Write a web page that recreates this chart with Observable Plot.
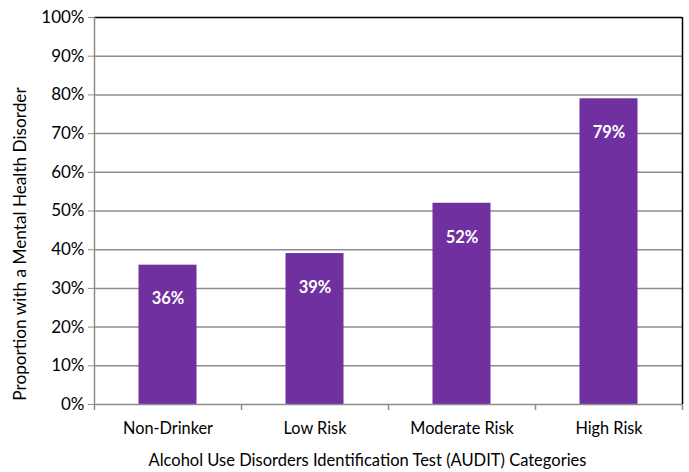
<!DOCTYPE html>
<html>
<head>
<meta charset="utf-8">
<script src="https://cdn.jsdelivr.net/npm/d3@7"></script>
<script src="https://cdn.jsdelivr.net/npm/@observablehq/plot@0.6"></script>
<style>
  html, body { margin: 0; padding: 0; background: #fff; }
</style>
</head>
<body>
<div id="chart"></div>
<script>
// AUDIT risk categories and share of each with a mental health disorder (%)
const categories = ["Non-Drinker", "Low Risk", "Moderate Risk", "High Risk"];
const values = [36, 39, 52, 79];
const yTicks = [0, 10, 20, 30, 40, 50, 60, 70, 80, 90, 100];
const xTitle = "Alcohol Use Disorders Identification Test (AUDIT) Categories";
const yTitle = "Proportion with a Mental Health Disorder";

const data = categories.map((c, i) => ({category: c, value: values[i]}));

const W = 689, H = 472;
const mL = 94, mR = 7, mT = 17, mB = 68;
const band = (W - mL - mR) / categories.length;
const barW = 58;
const inset = (band - barW) / 2;
const grid = "#8c8c8c";

const chart = Plot.plot({
  width: W,
  height: H,
  marginLeft: mL,
  marginRight: mR,
  marginTop: mT,
  marginBottom: mB,
  style: {fontFamily: "Lato, 'Open Sans', sans-serif", fontSize: "16px", color: "#000", background: "#fff"},
  x: {domain: categories, padding: 0},
  y: {domain: [0, 100]},
  marks: [
    // horizontal gridlines
    Plot.ruleY(yTicks.slice(1, -1), {stroke: grid, strokeWidth: 1.5}),
    // bars
    Plot.barY(data, {x: "category", y: "value", fill: "#7030A0", insetLeft: inset, insetRight: inset}),
    // value labels near the top of each bar
    Plot.text(data, {x: "category", y: "value", text: d => `${d.value}%`, dy: 34, fill: "#fff", fontWeight: "bold", fontSize: 16.5}),
    // plot frame: black top and right edges, grey axis lines
    Plot.ruleY([100], {stroke: "#000", strokeWidth: 1.5}),
    Plot.ruleX([categories[categories.length - 1]], {dx: band / 2, stroke: "#000", strokeWidth: 1.5}),
    Plot.ruleY([0], {stroke: grid, strokeWidth: 1.5}),
    Plot.ruleX([categories[0]], {dx: -band / 2, stroke: grid, strokeWidth: 1.5}),
    // category boundary ticks under the x axis
    Plot.ruleX(categories, {x: d => d, dx: -band / 2, y1: 0, y2: 0, insetBottom: -6, stroke: grid, strokeWidth: 1.5}),
    Plot.ruleX([categories[categories.length - 1]], {dx: band / 2, y1: 0, y2: 0, insetBottom: -6, stroke: grid, strokeWidth: 1.5}),
    Plot.axisY({ticks: yTicks, tickFormat: d => `${d}%`, tickSize: 6, tickPadding: 4, stroke: grid, label: null, fontSize: 17}),
    Plot.axisX({tickSize: 0, tickPadding: 18, label: null, fontSize: 16.3}),
    // axis titles
    Plot.text([xTitle], {frameAnchor: "bottom", dx: -21, dy: 61, fontSize: 16.5}),
    Plot.text([yTitle], {frameAnchor: "left", rotate: -90, textAnchor: "middle", dx: -74, dy: 33, fontSize: 17.2})
  ]
});

document.getElementById("chart").appendChild(chart);
</script>
</body>
</html>
